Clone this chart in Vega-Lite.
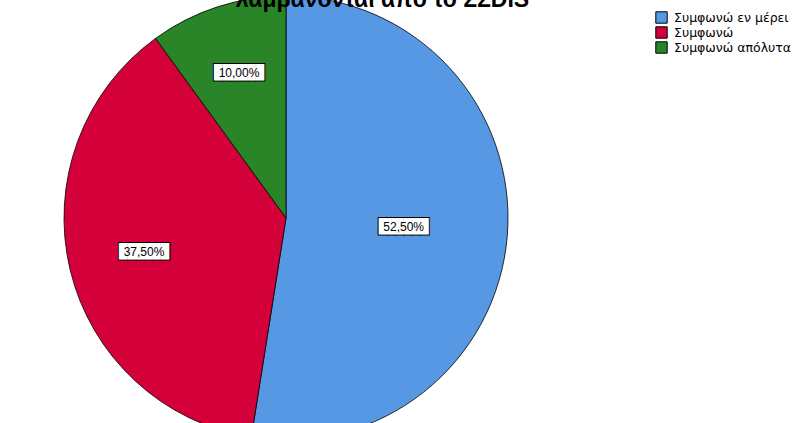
{
  "$schema": "https://vega.github.io/schema/vega-lite/v6.json",
  "width": 809,
  "height": 423,
  "padding": 0,
  "autosize": {"type": "none"},
  "background": "white",
  "config": {
    "view": {"stroke": null},
    "locale": {"number": {"decimal": ",", "thousands": ".", "grouping": [3], "currency": ["", " €"]}}
  },
  "title": {
    "text": "λαμβάνονται από το ΣΣDIS",
    "font": "Liberation Sans",
    "fontSize": 23,
    "fontWeight": "bold",
    "color": "black",
    "anchor": "middle",
    "offset": -18,
    "dx": -22
  },
  "data": {
    "values": [
      {"order": 1, "answer": "Συμφωνώ εν μέρει", "share": 0.525},
      {"order": 2, "answer": "Συμφωνώ", "share": 0.375},
      {"order": 3, "answer": "Συμφωνώ απόλυτα", "share": 0.10}
    ]
  },
  "encoding": {
    "theta": {"field": "share", "type": "quantitative", "stack": true},
    "order": {"field": "order", "type": "quantitative"}
  },
  "layer": [
    {
      "mark": {"type": "arc", "x": 286, "y": 218, "outerRadius": 222, "stroke": "black", "strokeWidth": 0.8},
      "encoding": {
        "color": {
          "field": "answer",
          "type": "nominal",
          "scale": {
            "domain": ["Συμφωνώ εν μέρει", "Συμφωνώ", "Συμφωνώ απόλυτα"],
            "range": ["#5698E3", "#D3003A", "#2A8428"]
          },
          "legend": {
            "orient": "none",
            "legendX": 655,
            "legendY": 11,
            "title": null,
            "symbolType": "square",
            "symbolSize": 130,
            "symbolStrokeColor": "black",
            "symbolStrokeWidth": 1,
            "symbolOpacity": 1,
            "labelFont": "DejaVu Sans",
            "labelFontSize": 12.5,
            "labelColor": "black",
            "rowPadding": -2,
            "labelOffset": 6
          }
        }
      }
    },
    {
      "mark": {"type": "text", "x": 286, "y": 218, "radius": {"expr": "datum.order == 1 ? 118 : datum.order == 2 ? 146 : 152"}, "text": "██████", "font": "DejaVu Sans Mono", "fontSize": 13.8, "fill": "white", "stroke": "black", "strokeWidth": 2, "align": "center", "baseline": "middle"}
    },
    {
      "mark": {"type": "text", "x": 286, "y": 218, "radius": {"expr": "datum.order == 1 ? 118 : datum.order == 2 ? 146 : 152"}, "text": "██████", "font": "DejaVu Sans Mono", "fontSize": 13.8, "fill": "white", "align": "center", "baseline": "middle"}
    },
    {
      "mark": {"type": "text", "x": 286, "y": 218, "radius": {"expr": "datum.order == 1 ? 118 : datum.order == 2 ? 146 : 152"}, "font": "Liberation Sans", "fontSize": 12, "fill": "black", "align": "center", "baseline": "middle"},
      "encoding": {
        "text": {"field": "share", "type": "quantitative", "format": ".2%"}
      }
    }
  ]
}
